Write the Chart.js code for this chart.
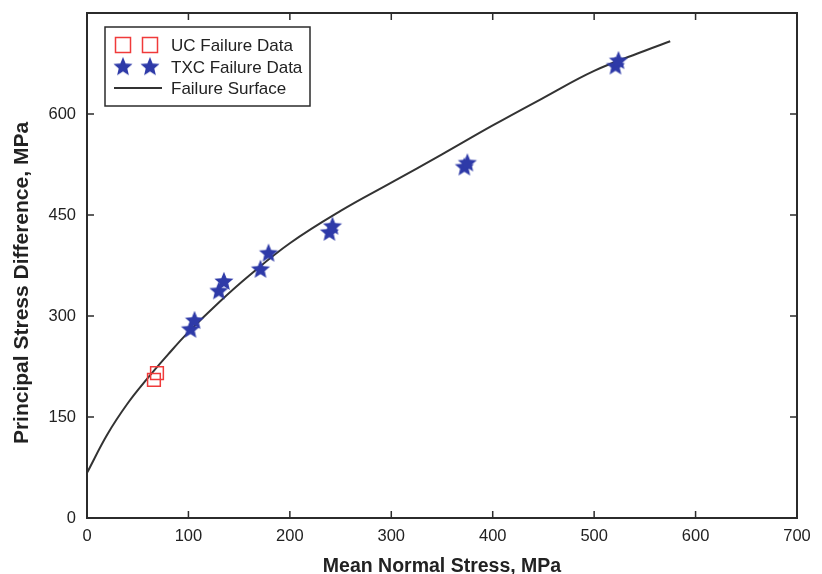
<!DOCTYPE html>
<html>
<head>
<meta charset="utf-8">
<script src="https://cdn.jsdelivr.net/npm/chart.js@4.4.1/dist/chart.umd.min.js"></script>
<style>
  html, body { margin: 0; padding: 0; background: #fff; }
  #wrap { width: 822px; height: 574px; }
</style>
</head>
<body>
<div id="wrap"><canvas id="stressChart"></canvas></div>
<script>
// Valeurs (MPa)
const ucX = [66, 69];
const ucY = [205, 215];

const txcX = [102, 106, 130, 135, 171, 179, 239, 242, 372, 375, 521, 524];
const txcY = [281, 294, 338, 352, 370, 394, 425, 434, 522, 528, 672, 680];

// Courbe de rupture relevée point par point
const surfX = [0, 20, 40, 60, 80, 100, 130, 160, 200, 250, 300, 350, 400, 450, 500, 550, 575];
const surfY = [67, 124, 170, 208, 243, 276, 320, 360, 408, 456, 498, 540, 583, 624, 664, 694, 708];

const xTicks = [0, 100, 200, 300, 400, 500, 600, 700];
const yTicks = [0, 150, 300, 450, 600];

const yTitle = 'Principal Stress Difference, MPa';

const toPoints = (xs, ys) => xs.map((x, i) => ({ x: x, y: ys[i] }));

// Etoile pleine à 5 branches pour les points TXC
function makeStar(color) {
    const c = document.createElement('canvas');
    c.width = 22;
    c.height = 22;
    const g = c.getContext('2d');
    g.beginPath();
    for (let i = 0; i < 10; i++) {
        const r = i % 2 === 0 ? 10 : 4.5;
        const a = -Math.PI / 2 + i * Math.PI / 5;
        const px = 11 + r * Math.cos(a);
        const py = 11.8 + r * Math.sin(a);
        if (i === 0) g.moveTo(px, py); else g.lineTo(px, py);
    }
    g.closePath();
    g.fillStyle = color;
    g.fill();
    return c;
}
const starImg = makeStar('#2e3aa8');

// Cadre + graduations vers l'intérieur
const framePlugin = {
    id: 'frame',
    afterDatasetsDraw(chart) {
        const { ctx, chartArea: a, scales } = chart;
        ctx.save();
        ctx.strokeStyle = '#2b2b2b';
        ctx.lineWidth = 2;
        ctx.strokeRect(a.left, a.top, a.right - a.left, a.bottom - a.top);
        ctx.lineWidth = 1.5;
        const len = 7;
        ctx.beginPath();
        xTicks.forEach(v => {
            const px = scales.x.getPixelForValue(v);
            ctx.moveTo(px, a.bottom); ctx.lineTo(px, a.bottom - len);
            ctx.moveTo(px, a.top); ctx.lineTo(px, a.top + len);
        });
        yTicks.forEach(v => {
            const py = scales.y.getPixelForValue(v);
            ctx.moveTo(a.left, py); ctx.lineTo(a.left + len, py);
            ctx.moveTo(a.right, py); ctx.lineTo(a.right - len, py);
        });
        ctx.stroke();

        // Titre de l'axe vertical (un peu plus bas que le centre, comme l'original)
        ctx.translate(22, 283);
        ctx.rotate(-Math.PI / 2);
        ctx.font = 'bold 21px "Liberation Sans", Arial, sans-serif';
        ctx.fillStyle = '#222';
        ctx.textAlign = 'center';
        ctx.textBaseline = 'middle';
        ctx.fillText(yTitle, 0, 0);
        ctx.restore();
    }
};

// Légende style MATLAB (deux symboles par entrée)
const legendPlugin = {
    id: 'matlabLegend',
    afterDraw(chart) {
        const ctx = chart.ctx;
        const ds = chart.data.datasets;
        const bx = 105, by = 27, bw = 205, bh = 79;
        ctx.save();
        ctx.fillStyle = '#fff';
        ctx.fillRect(bx, by, bw, bh);
        ctx.strokeStyle = '#2b2b2b';
        ctx.lineWidth = 1.5;
        ctx.strokeRect(bx, by, bw, bh);
        ctx.font = '17px "Liberation Sans", Arial, sans-serif';
        ctx.textBaseline = 'middle';
        ctx.fillStyle = '#222';
        const rows = [45, 67, 88];
        // UC
        ctx.strokeStyle = ds[0].borderColor;
        ctx.lineWidth = 1.5;
        [123, 150].forEach(cx => ctx.strokeRect(cx - 7.5, rows[0] - 7.5, 15, 15));
        // TXC
        [123, 150].forEach(cx => ctx.drawImage(starImg, cx - 11, rows[1] - 11.8));
        // Surface
        ctx.strokeStyle = ds[2].borderColor;
        ctx.lineWidth = 2;
        ctx.beginPath();
        ctx.moveTo(114, rows[2]);
        ctx.lineTo(162, rows[2]);
        ctx.stroke();
        ds.forEach((d, i) => ctx.fillText(d.label, 171, rows[i] + 1));
        ctx.restore();
    }
};

const tickFont = { family: '"Liberation Sans", Arial, sans-serif', size: 16.5 };
const titleFont = { family: '"Liberation Sans", Arial, sans-serif', size: 19.5, weight: 'bold' };

const ctx = document.getElementById('stressChart').getContext('2d');
const stressChart = new Chart(ctx, {
    type: 'scatter',
    data: {
        datasets: [{
            label: 'UC Failure Data',
            data: toPoints(ucX, ucY),
            pointStyle: 'rect',
            pointRadius: 9,
            borderColor: '#f03a3a',
            backgroundColor: 'rgba(0,0,0,0)',
            borderWidth: 1.5
        }, {
            label: 'TXC Failure Data',
            data: toPoints(txcX, txcY),
            pointStyle: starImg,
            pointRadius: 11,
            borderColor: '#2e3aa8',
            backgroundColor: '#2e3aa8'
        }, {
            label: 'Failure Surface',
            data: toPoints(surfX, surfY),
            showLine: true,
            pointRadius: 0,
            borderColor: '#333333',
            borderWidth: 2,
            tension: 0.4,
            order: 5
        }]
    },
    options: {
        responsive: true,
        maintainAspectRatio: false,
        animation: false,
        layout: { autoPadding: false, padding: { top: 13, right: 25, left: 10, bottom: 0 } },
        plugins: {
            legend: { display: false },
            tooltip: { enabled: false }
        },
        scales: {
            x: {
                type: 'linear',
                min: 0,
                max: 700,
                afterBuildTicks: s => { s.ticks = xTicks.map(v => ({ value: v })); },
                afterFit: s => {
                    s.height = 56;
                    s.paddingLeft = 0;
                    s.paddingRight = 0;
                },
                grid: { display: false, drawTicks: false },
                border: { display: false },
                ticks: { color: '#222', font: tickFont, padding: 9, maxRotation: 0 },
                title: {
                    display: true,
                    text: 'Mean Normal Stress, MPa',
                    color: '#222',
                    font: titleFont,
                    padding: { top: 14, bottom: -4 }
                }
            },
            y: {
                type: 'linear',
                min: 0,
                max: 750,
                afterBuildTicks: s => { s.ticks = yTicks.map(v => ({ value: v })); },
                afterFit: s => {
                    s.width = 77;
                    s.paddingTop = 0;
                    s.paddingBottom = 0;
                },
                grid: { display: false, drawTicks: false },
                border: { display: false },
                ticks: { color: '#222', font: tickFont, padding: 11 },
                title: { display: false }
            }
        }
    },
    plugins: [framePlugin, legendPlugin]
});
</script>
</body>
</html>
